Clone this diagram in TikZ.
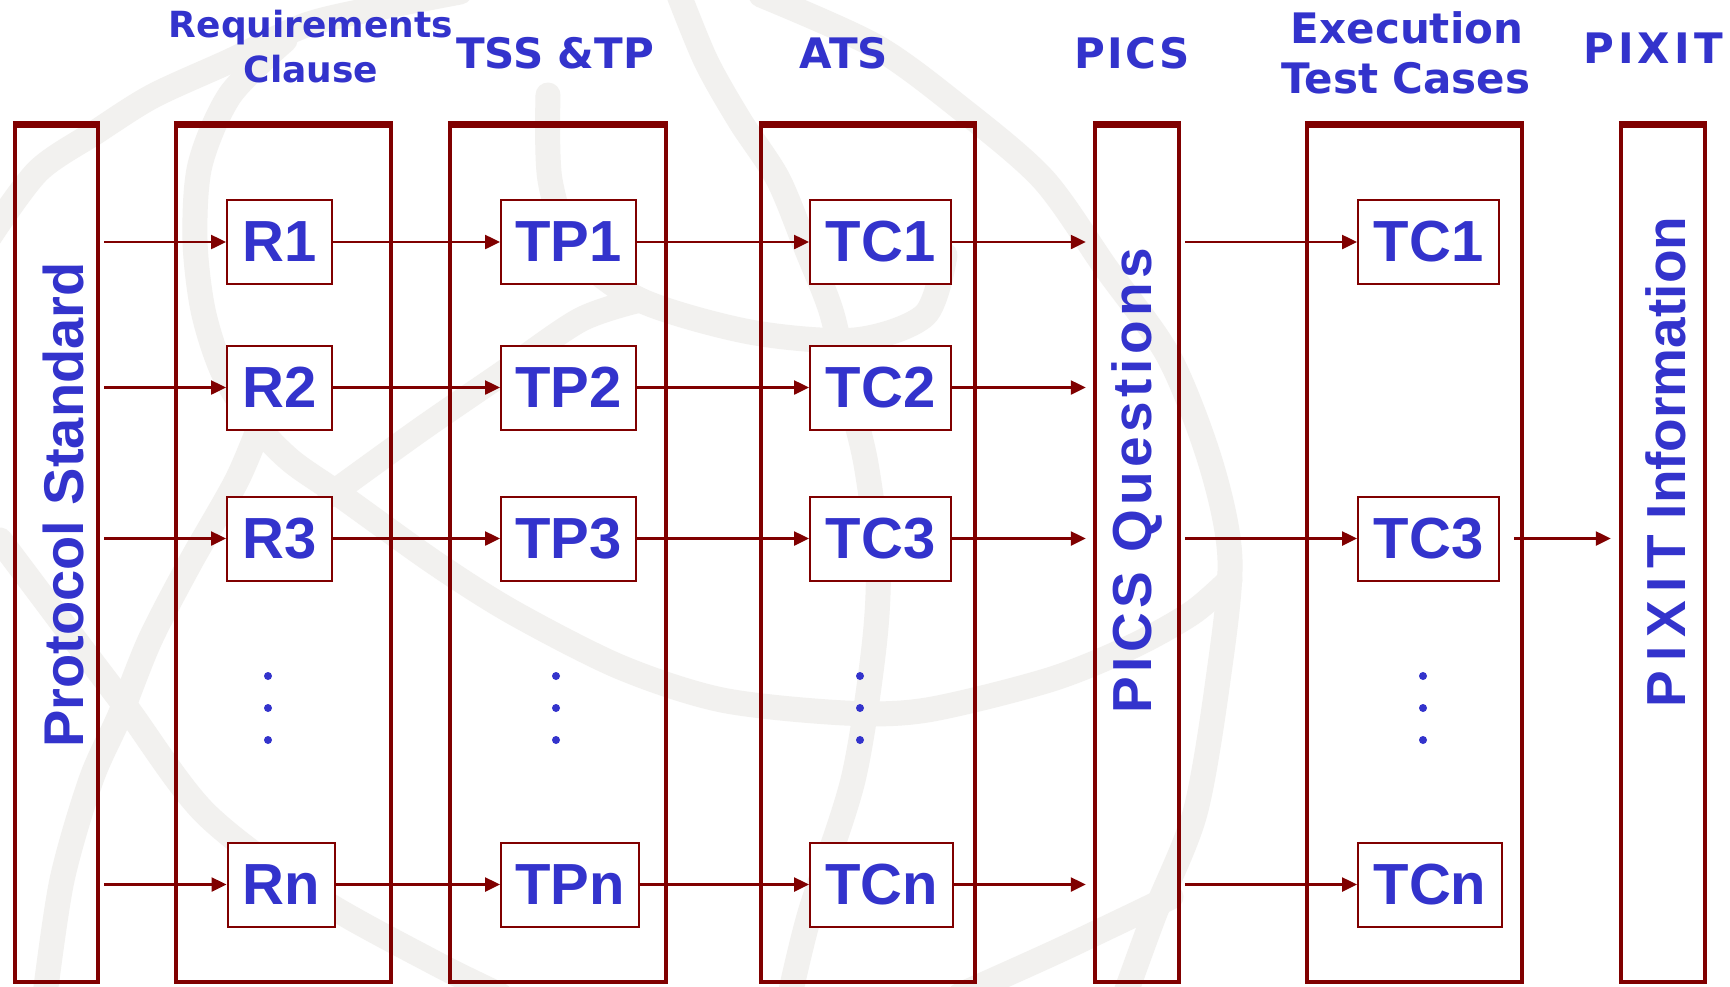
\documentclass[tikz,border=0pt]{standalone}
\usepackage{fontspec}
\setmainfont{Liberation Sans}
\newfontfamily\hdrfont{DejaVu Sans}
\usetikzlibrary{arrows.meta, positioning}
\definecolor{boxred}{RGB}{128, 0, 0}
\definecolor{lblblue}{RGB}{51, 51, 204}
\definecolor{globegray}{RGB}{242, 241, 239}

\begin{document}
\begin{tikzpicture}[
        x=1pt, y=-1pt,
        colbox/.style={rectangle, draw=boxred, line width=4.5pt, minimum width=#1, minimum height=859pt, inner sep=0pt},
        topbar/.style={draw=boxred, line width=7pt},
        itembox/.style={rectangle, draw=boxred, fill=white, line width=2pt, minimum width=#1, minimum height=84pt, inner sep=0pt, text=lblblue, font=\bfseries\fontsize{58}{62}\selectfont},
        hdr/.style={anchor=base, inner sep=0pt, text=lblblue, font=\hdrfont\bfseries\fontsize{42}{48}\selectfont},
        hdrsmall/.style={hdr, font=\hdrfont\bfseries\fontsize{36}{42}\selectfont},
        sidelbl/.style={rotate=90, inner sep=0pt, text=lblblue, font=\bfseries\fontsize{55}{60}\selectfont},
        flow/.style={-{Triangle[length=15pt, width=14pt]}, line width=2.5pt, draw=boxred},
        globe/.style={draw=globegray, line width=25pt, line cap=round}
    ]
        \fill[white] (0,0) rectangle (1730,986);
        \useasboundingbox (0,0) rectangle (1730,986);

        % faint globe in the background
        \draw[globe] plot[smooth] coordinates {(-10,236) (38,171) (96,132) (153,96) (230,61) (306,25) (383,7) (460,-8)};
        \draw[globe] plot[smooth] coordinates {(285,40) (230,95) (200,165) (195,240) (203,310) (222,370) (252,420) (290,460) (340,495) (435,563) (514,613) (620,667) (722,700) (845,713) (927,710) (1049,680) (1131,647) (1192,613) (1230,580)};
        \draw[globe] plot[smooth] coordinates {(262,420) (237,480) (190,563) (150,640) (120,715) (91,780) (62,880) (45,995)};
        \draw[globe] plot[smooth] coordinates {(0,540) (60,620) (126,707) (205,813) (316,897) (435,963) (500,995)};
        \draw[globe] plot[smooth] coordinates {(677,-10) (706,61) (740,121) (778,179) (807,250) (832,314) (849,393) (866,464) (878,560) (874,647) (853,780) (810,913) (790,995)};
        \draw[globe] plot[smooth] coordinates {(761,-5) (875,46) (959,107) (1043,179) (1106,268) (1169,357) (1211,464) (1230,560) (1218,680) (1195,813) (1155,913) (1125,995)};
        \draw[globe] plot[smooth] coordinates {(548,95) (550,180) (575,250) (640,300) (750,332) (855,340) (925,315) (945,255)};
        \draw[globe] plot[smooth] coordinates {(330,495) (420,430) (500,375) (580,320) (640,300)};
        \draw[globe] plot[smooth] coordinates {(960,995) (1060,950) (1171,897)};

        % columns
        \node[colbox=83pt] (std) at (56.5,552.5) {};
        \node[colbox=215pt] (req) at (283.5,552.5) {};
        \node[colbox=216pt] (tss) at (558,552.5) {};
        \node[colbox=214pt] (ats) at (868,552.5) {};
        \node[colbox=84pt] (pics) at (1137,552.5) {};
        \node[colbox=215pt] (exec) at (1414.5,552.5) {};
        \node[colbox=84pt] (pixit) at (1663,552.5) {};
        \draw[topbar] ([yshift=-3.5pt]std.north west) -- ([yshift=-3.5pt]std.north east);
        \draw[topbar] ([yshift=-3.5pt]req.north west) -- ([yshift=-3.5pt]req.north east);
        \draw[topbar] ([yshift=-3.5pt]tss.north west) -- ([yshift=-3.5pt]tss.north east);
        \draw[topbar] ([yshift=-3.5pt]ats.north west) -- ([yshift=-3.5pt]ats.north east);
        \draw[topbar] ([yshift=-3.5pt]pics.north west) -- ([yshift=-3.5pt]pics.north east);
        \draw[topbar] ([yshift=-3.5pt]exec.north west) -- ([yshift=-3.5pt]exec.north east);
        \draw[topbar] ([yshift=-3.5pt]pixit.north west) -- ([yshift=-3.5pt]pixit.north east);

        % headings
        \node[hdrsmall] (hreq) at (311,37) {Requirements};
        \node[hdrsmall] (hclause) at (311,82) {Clause};
        \node[hdr] (htss) at (555,68) {TSS \&TP};
        \node[hdr] (hats) at (844,68) {ATS};
        \node[hdr] (hpics) at (1132,68) {\addfontfeature{LetterSpace=5}PICS};
        \node[hdr] (hexec) at (1407,43) {Execution};
        \node[hdr] (htest) at (1406,93) {Test Cases};
        \node[hdr] (hpixit) at (1653,63) {\addfontfeature{LetterSpace=10}PIXIT};

        % vertical labels
        \node[sidelbl, font=\bfseries\fontsize{56}{60}\selectfont] (stdlbl) at (63,505) {Protocol Standard};
        \node[sidelbl] (picslbl) at (1137,481) {\addfontfeature{LetterSpace=8}PICS Questions};
        \node[sidelbl] (pixitlbl) at (1666,462) {{\addfontfeature{LetterSpace=16}PIXIT} Information};

        % requirement clauses
        \node[itembox=105pt] (r1) at (279.5,242) {R1};
        \node[itembox=105pt] (r2) at (279.5,387.5) {R2};
        \node[itembox=105pt] (r3) at (279.5,538.5) {R3};
        \node[itembox=107pt] (rn) at (281,884.5) {Rn};

        % test purposes
        \node[itembox=135pt] (tp1) at (568.5,242) {TP1};
        \node[itembox=135pt] (tp2) at (568.5,387.5) {TP2};
        \node[itembox=135pt] (tp3) at (568.5,538.5) {TP3};
        \node[itembox=138pt] (tpn) at (570,884.5) {TPn};

        % abstract test cases
        \node[itembox=141pt] (tc1) at (880.5,242) {TC1};
        \node[itembox=141pt] (tc2) at (880.5,387.5) {TC2};
        \node[itembox=141pt] (tc3) at (880.5,538.5) {TC3};
        \node[itembox=143pt] (tcn) at (881.5,884.5) {TCn};

        % executable test cases
        \node[itembox=141pt] (ex1) at (1428.5,242) {TC1};
        \node[itembox=141pt] (ex3) at (1428.5,538.5) {TC3};
        \node[itembox=144pt] (exn) at (1430,884.5) {TCn};

        % dots
        \fill[lblblue] (268,676) circle (4pt) (268,708) circle (4pt) (268,740) circle (4pt);
        \fill[lblblue] (556,676) circle (4pt) (556,708) circle (4pt) (556,740) circle (4pt);
        \fill[lblblue] (860,676) circle (4pt) (860,708) circle (4pt) (860,740) circle (4pt);
        \fill[lblblue] (1423,676) circle (4pt) (1423,708) circle (4pt) (1423,740) circle (4pt);

        % flows
        \draw[flow, shorten <=4pt] (std.east |- r1) -- (r1);
        \draw[flow, shorten <=4pt] (std.east |- r2) -- (r2);
        \draw[flow, shorten <=4pt] (std.east |- r3) -- (r3);
        \draw[flow, shorten <=4pt] (std.east |- rn) -- (rn);
        \draw[flow] (r1) -- (tp1);
        \draw[flow] (r2) -- (tp2);
        \draw[flow] (r3) -- (tp3);
        \draw[flow] (rn) -- (tpn);
        \draw[flow] (tp1) -- (tc1);
        \draw[flow] (tp2) -- (tc2);
        \draw[flow] (tp3) -- (tc3);
        \draw[flow] (tpn) -- (tcn);
        \draw[flow, shorten >=7pt] (tc1) -- (pics.west |- tc1);
        \draw[flow, shorten >=7pt] (tc2) -- (pics.west |- tc2);
        \draw[flow, shorten >=7pt] (tc3) -- (pics.west |- tc3);
        \draw[flow, shorten >=7pt] (tcn) -- (pics.west |- tcn);
        \draw[flow, shorten <=4pt] (pics.east |- ex1) -- (ex1);
        \draw[flow, shorten <=4pt] (pics.east |- ex3) -- (ex3);
        \draw[flow, shorten <=4pt] (pics.east |- exn) -- (exn);
        \draw[flow, shorten <=14pt, shorten >=8pt] (ex3) -- (pixit.west |- ex3);
    \end{tikzpicture}
\end{document}
